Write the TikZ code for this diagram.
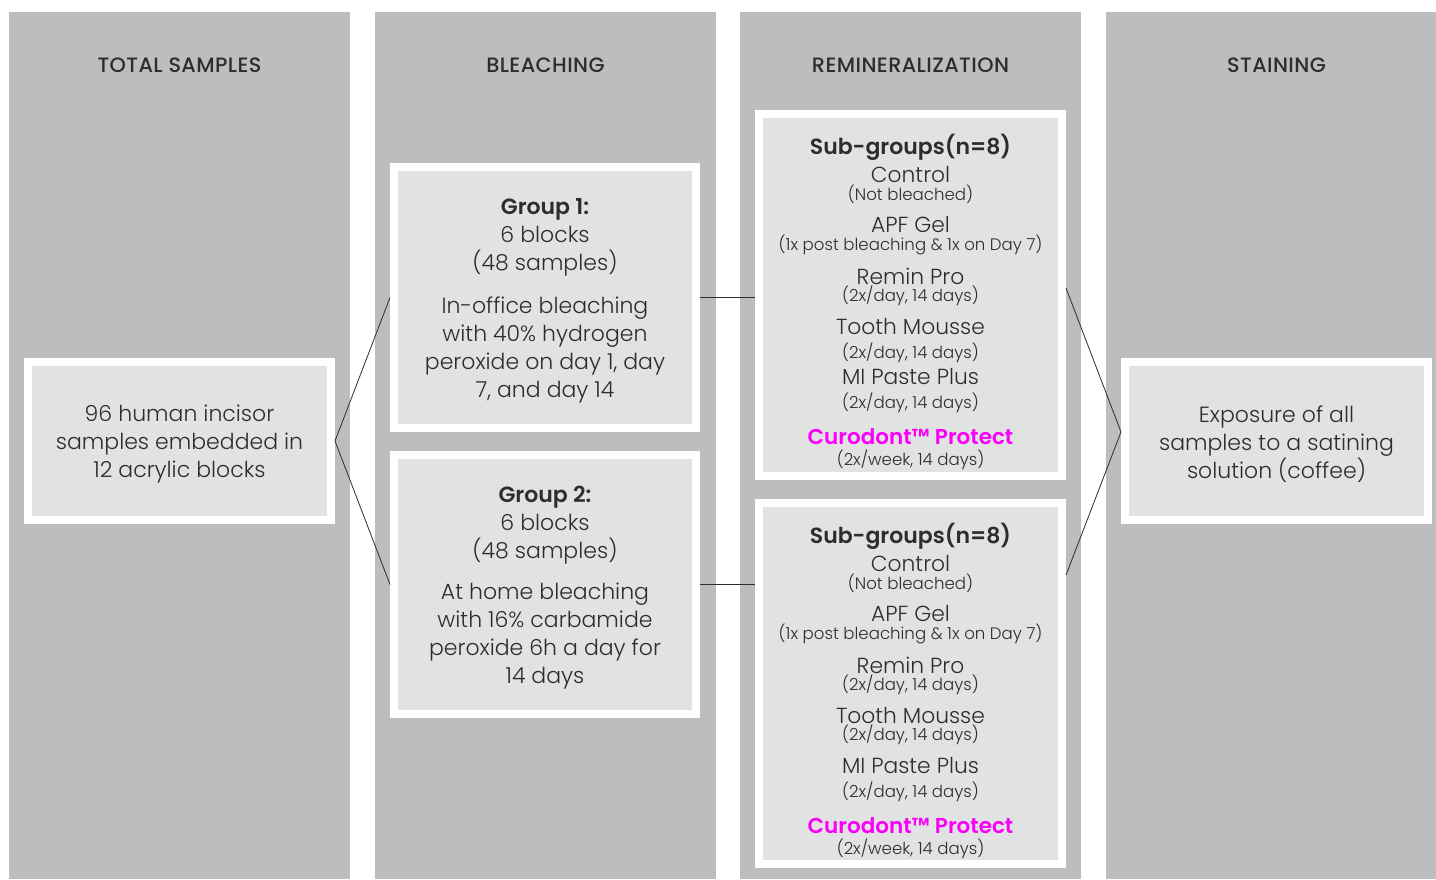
\documentclass[tikz,border=0pt]{standalone}
\usepackage{fontspec}
\setmainfont{Poppins}[UprightFont={* Light}, BoldFont={* SemiBold}]
\newfontfamily\headfont{Poppins Medium}
\usepackage{xcolor}
\definecolor{colgray}{RGB}{188,189,191}
\definecolor{boxgray}{RGB}{225,226,226}
\definecolor{txt}{RGB}{45,45,45}
\definecolor{curo}{RGB}{250,0,250}

\begin{document}
\begin{tikzpicture}[x=1pt,y=-1pt,
    box/.style={draw=white, line width=8pt, fill=boxgray, inner sep=0pt},
    body/.style={align=center, text=txt, yshift=-3pt, font=\fontsize{22}{28}\selectfont},
    head/.style={text=txt, font=\headfont\fontsize{20.8}{24}\selectfont\addfontfeature{LetterSpace=2}},
    sghead/.style={text=txt, font=\bfseries\fontsize{22}{26}\selectfont},
    big/.style={text=txt, font=\fontsize{21.8}{25}\selectfont},
    small/.style={text=txt, font=\fontsize{16.6}{19}\selectfont},
    mag/.style={text=curo, font=\bfseries\fontsize{21.5}{25}\selectfont},
    link/.style={draw=txt, line width=0.8pt}]
\useasboundingbox (0,0) rectangle (1436,879);

% columns
\fill[colgray] (9,12) rectangle (350,879);
\fill[colgray] (375,12) rectangle (716,879);
\fill[colgray] (740,12) rectangle (1081,879);
\fill[colgray] (1106,12) rectangle (1436,879);
\node[head] at(179.5,65)(h1){TOTAL SAMPLES};
\node[head] at(545.5,65)(h2){BLEACHING};
\node[head] at(910.5,65)(h3){REMINERALIZATION};
\node[head] at(1276.5,65)(h4){STAINING};

\node[box, minimum width=303pt, minimum height=158pt] at(179.5,441)(tot){};
\node[box, minimum width=302pt, minimum height=261pt] at(545,297.5)(g1){};
\node[box, minimum width=302pt, minimum height=259pt] at(545,584.5)(g2){};
\node[box, minimum width=303pt, minimum height=362pt] at(910.5,295)(s1){};
\node[box, minimum width=303pt, minimum height=361pt] at(910.5,683.5)(s2){};
\node[box, minimum width=303pt, minimum height=158pt] at(1276.5,441)(st){};

\node[body] at(tot)(totx){96 human incisor\\samples embedded in\\12 acrylic blocks};
\node[body] at(g1)(g1x){\textbf{Group 1:}\\6 blocks\\(48 samples)\\[15pt]In-office bleaching\\with 40\% hydrogen\\peroxide on day 1, day\\7, and day 14};
\node[body] at(g2)(g2x){\textbf{Group 2:}\\6 blocks\\(48 samples)\\[13pt]At home bleaching\\with 16\% carbamide\\peroxide 6h a day for\\14 days};
\node[body] at(st)(stx){Exposure of all\\samples to a satining\\solution (coffee)};

% sub-group lists
\foreach \b/\m in {110/243,499/236}{
    \foreach \dy/\s/\t in {37/sghead/{Sub-groups(n=8)}, 65/big/Control, 84/small/{(Not bleached)},
        115/big/{APF Gel}, 135/small/{(1x post bleaching \& 1x on Day 7)},
        166/big/{Remin Pro}, 186/small/{(2x/day, 14 days)},
        217/big/{Tooth Mousse}, \m/small/{(2x/day, 14 days)},
        267/big/{MI Paste Plus}, 293/small/{(2x/day, 14 days)},
        327/mag/{Curodont™ Protect}, 350/small/{(2x/week, 14 days)}}
        \node[\s] at(910.5,\b+\dy)(t\b-\dy){\t};
}

\path[link]
    (tot.east) edge (g1.west)
    (tot.east) edge (g2.west)
    (g1.east) edge (g1.east -| s1.west)
    (g2.east) edge (g2.east -| s2.west)
    ([yshift=7pt]s1.east) edge ([yshift=9pt]st.west)
    ([yshift=108.5pt]s2.east) edge ([yshift=9pt]st.west);
\end{tikzpicture}
\end{document}
